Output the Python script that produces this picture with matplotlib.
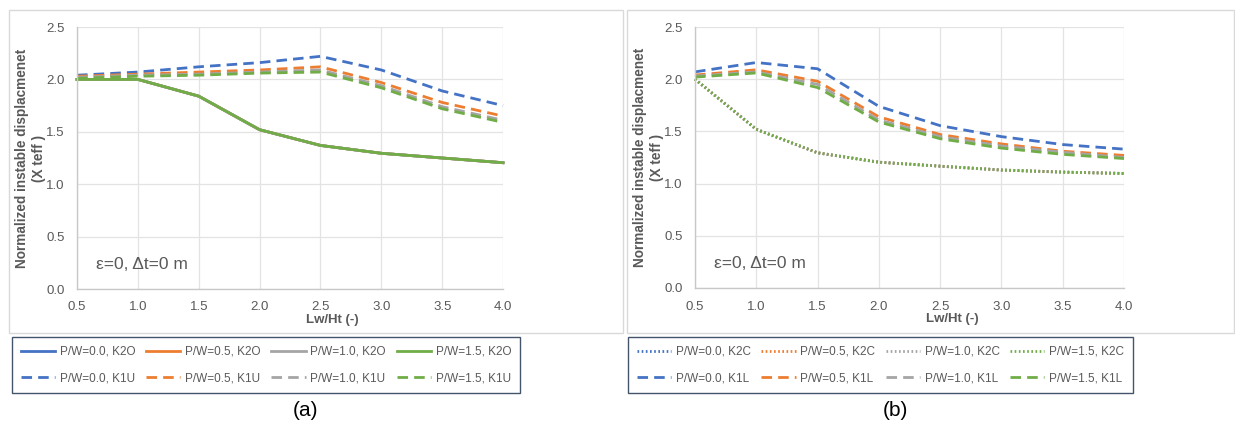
import numpy as np
import matplotlib
matplotlib.use('Agg')
import matplotlib.pyplot as plt
from matplotlib.patches import Rectangle

plt.rcParams['font.family'] = ['Liberation Sans', 'DejaVu Sans']

# data
lw_ht = [0.5, 1.0, 1.5, 2.0, 2.5, 3.0, 3.5, 4.0]
pw = ['0.0', '0.5', '1.0', '1.5']
colors = ['#4472C4', '#ED7D31', '#A5A5A5', '#70AD47']

# (a) K2O (solid, all four coincide) and K1U (dashed)
k2o = [2.00, 2.00, 1.84, 1.52, 1.37, 1.295, 1.25, 1.205]
k1u = [
    [2.04, 2.07, 2.12, 2.16, 2.22, 2.09, 1.89, 1.75],
    [2.03, 2.05, 2.07, 2.09, 2.12, 1.97, 1.78, 1.65],
    [2.02, 2.04, 2.05, 2.07, 2.09, 1.94, 1.74, 1.61],
    [2.01, 2.03, 2.04, 2.06, 2.07, 1.92, 1.72, 1.59],
]
# (b) K2C (dotted, all four coincide) and K1L (dashed)
k2c = [2.00, 1.52, 1.295, 1.205, 1.167, 1.13, 1.11, 1.097]
k1l = [
    [2.07, 2.16, 2.10, 1.74, 1.555, 1.45, 1.374, 1.33],
    [2.04, 2.09, 1.98, 1.64, 1.47, 1.38, 1.31, 1.27],
    [2.03, 2.07, 1.95, 1.61, 1.45, 1.36, 1.30, 1.25],
    [2.02, 2.06, 1.92, 1.59, 1.43, 1.34, 1.28, 1.24],
]

W, H = 1235, 434
fig = plt.figure(figsize=(W/100, H/100), dpi=100)
txt = '#595959'

def fx(px):
    return px / W

def fy(py):
    return 1 - py / H

# chart-area frames
for x0, x1 in [(9, 623), (627, 1234)]:
    fig.patches.append(Rectangle((fx(x0), fy(333)), fx(x1 - x0), (333 - 10) / H,
                                 transform=fig.transFigure, fill=False,
                                 edgecolor='#D9D9D9', lw=1.0))

def setup(ax):
    ax.set_xlim(0.5, 4.0)
    ax.set_ylim(0, 2.5)
    ax.set_xticks(np.arange(0.5, 4.01, 0.5))
    ax.set_yticks(np.arange(0, 2.51, 0.5))
    ax.xaxis.set_major_formatter(matplotlib.ticker.FormatStrFormatter('%.1f'))
    ax.yaxis.set_major_formatter(matplotlib.ticker.FormatStrFormatter('%.1f'))
    ax.grid(True, color='#E3E3E3', lw=0.9)
    ax.set_axisbelow(True)
    for s in ['top', 'right']:
        ax.spines[s].set_visible(False)
    for s in ['left', 'bottom']:
        ax.spines[s].set_color('#C8C8C8')
        ax.spines[s].set_linewidth(1.0)
    ax.tick_params(length=0, pad=9, labelsize=9.5, labelcolor=txt)
    ax.set_ylabel('Normalized instable displacmenet\n(X teff )', fontsize=9.8,
                  fontweight='bold', color=txt, linespacing=1.25)
    ax.yaxis.set_label_coords(-0.073, 0.5)
    ax.set_xlabel('Lw/Ht (-)', fontsize=9.5, fontweight='bold', color=txt)
    ax.xaxis.set_label_coords(0.60, -0.095)
    ax.text(0.045, 0.095, 'ε=0, Δt=0 m', transform=ax.transAxes, fontsize=12.5,
            color=txt, va='center', ha='left')

axa = fig.add_axes([fx(77), fy(289), fx(503 - 77), (289 - 27) / H])
axb = fig.add_axes([fx(695), fy(288), fx(1124 - 695), (288 - 27) / H])
setup(axa)
setup(axb)

dash = (0, (3.8, 2.2))
dot = (0, (0.6, 0.9))
lw = 2.0

ha, hb = [], []
for i in range(4):
    l1, = axa.plot(lw_ht, k2o, color=colors[i], lw=lw, ls='-',
                   label='P/W=%s, K2O' % pw[i], clip_on=False)
    l2, = axb.plot(lw_ht, k2c, color=colors[i], lw=lw, ls=dot,
                   label='P/W=%s, K2C' % pw[i], clip_on=False)
    ha.append([l1])
    hb.append([l2])
for i in range(4):
    l1, = axa.plot(lw_ht, k1u[i], color=colors[i], lw=lw, ls=dash,
                   label='P/W=%s, K1U' % pw[i], clip_on=False)
    l2, = axb.plot(lw_ht, k1l[i], color=colors[i], lw=lw, ls=dash,
                   label='P/W=%s, K1L' % pw[i], clip_on=False)
    ha[i].append(l1)
    hb[i].append(l2)

# legends: column-major order so rows are K2x / K1x
for hh, x0, x1 in [(ha, 12, 520), (hb, 628, 1133)]:
    handles = [h for pair in hh for h in pair]
    leg = fig.legend(handles=handles, labels=[h.get_label() for h in handles],
                     ncol=4, loc='center', mode='expand',
                     bbox_to_anchor=(fx(x0), fy(395), fx(x1 - x0), 60 / H),
                     fontsize=8.5, handlelength=2.9, handletextpad=0.4,
                     labelspacing=1.2, borderpad=0.75, borderaxespad=0,
                     columnspacing=0.8, fancybox=False, framealpha=1)
    leg.get_frame().set_edgecolor('#44546A')
    leg.get_frame().set_linewidth(1.0)
    for t in leg.get_texts():
        t.set_color(txt)

fig.text(fx(305), fy(411), '(a)', fontsize=15, ha='center', va='center', color='black')
fig.text(fx(895), fy(411), '(b)', fontsize=15, ha='center', va='center', color='black')

fig.savefig('out.png', dpi=100)
